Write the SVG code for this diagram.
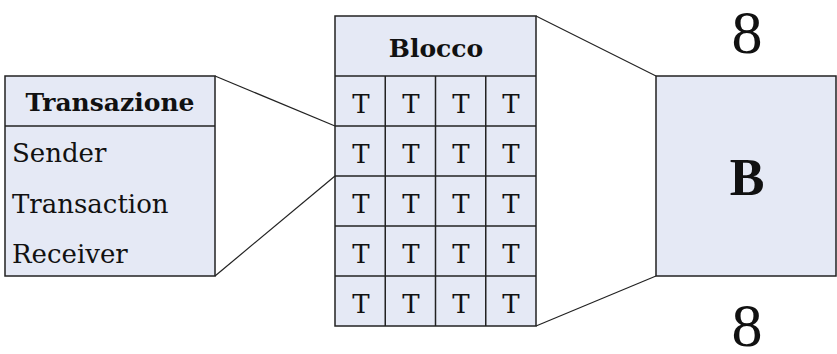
<svg xmlns="http://www.w3.org/2000/svg" width="837" height="354" viewBox="0 0 837 354">
  <style>
    .box { fill: #e5e9f5; stroke: #222; stroke-width: 1.5; }
    .div { stroke: #222; stroke-width: 1.5; fill: none; }
    .link { stroke: #222; stroke-width: 1.2; fill: none; }
    .hdr { font-family: "DejaVu Serif", "Liberation Serif", serif; font-weight: bold; font-size: 25px; fill: #111; text-anchor: middle; }
    .txt { font-family: "DejaVu Serif", "Liberation Serif", serif; font-size: 26px; fill: #111; }
    .cell { font-family: "DejaVu Serif", "Liberation Serif", serif; font-size: 26px; fill: #111; text-anchor: middle; }
    .big { font-family: "Liberation Serif", serif; font-size: 62px; fill: #111; text-anchor: middle; }
    .bold { font-family: "Liberation Serif", serif; font-weight: bold; font-size: 52px; fill: #111; text-anchor: middle; }
  </style>

  <!-- zoom lines between the three levels -->
  <g id="connectors">
    <line class="link" x1="215" y1="76" x2="335" y2="126"/>
    <line class="link" x1="215" y1="276" x2="335" y2="176"/>
    <line class="link" x1="536" y1="16" x2="656" y2="76"/>
    <line class="link" x1="536" y1="326" x2="656" y2="276"/>
  </g>

  <!-- transaction record -->
  <g id="transazione">
    <rect class="box" x="5" y="76" width="210" height="200"/>
    <line class="div" x1="5" y1="126" x2="215" y2="126"/>
    <text class="hdr" x="110" y="111">Transazione</text>
    <text class="txt" x="12" y="162">Sender</text>
    <text class="txt" x="12" y="213">Transaction</text>
    <text class="txt" x="12" y="263">Receiver</text>
  </g>

  <!-- block made of transactions -->
  <g id="blocco">
    <rect class="box" x="335" y="16" width="201" height="310"/>
    <g class="div">
      <line x1="335" y1="76" x2="536" y2="76"/>
      <line x1="335" y1="126" x2="536" y2="126"/>
      <line x1="335" y1="176" x2="536" y2="176"/>
      <line x1="335" y1="226" x2="536" y2="226"/>
      <line x1="335" y1="276" x2="536" y2="276"/>
      <line x1="385.25" y1="76" x2="385.25" y2="326"/>
      <line x1="435.5" y1="76" x2="435.5" y2="326"/>
      <line x1="485.75" y1="76" x2="485.75" y2="326"/>
    </g>
    <text class="hdr" x="436" y="57">Blocco</text>
    <g class="cell">
      <text x="361" y="113">T</text><text x="411" y="113">T</text><text x="461" y="113">T</text><text x="511" y="113">T</text>
      <text x="361" y="163">T</text><text x="411" y="163">T</text><text x="461" y="163">T</text><text x="511" y="163">T</text>
      <text x="361" y="213">T</text><text x="411" y="213">T</text><text x="461" y="213">T</text><text x="511" y="213">T</text>
      <text x="361" y="263">T</text><text x="411" y="263">T</text><text x="461" y="263">T</text><text x="511" y="263">T</text>
      <text x="361" y="313">T</text><text x="411" y="313">T</text><text x="461" y="313">T</text><text x="511" y="313">T</text>
    </g>
  </g>

  <!-- block summary -->
  <g id="b">
    <rect class="box" x="656" y="76" width="180" height="200"/>
    <text class="bold" x="747" y="195">B</text>
  </g>
  <text class="big" x="747" y="53">8</text>
  <text class="big" x="747" y="346">8</text>
</svg>
